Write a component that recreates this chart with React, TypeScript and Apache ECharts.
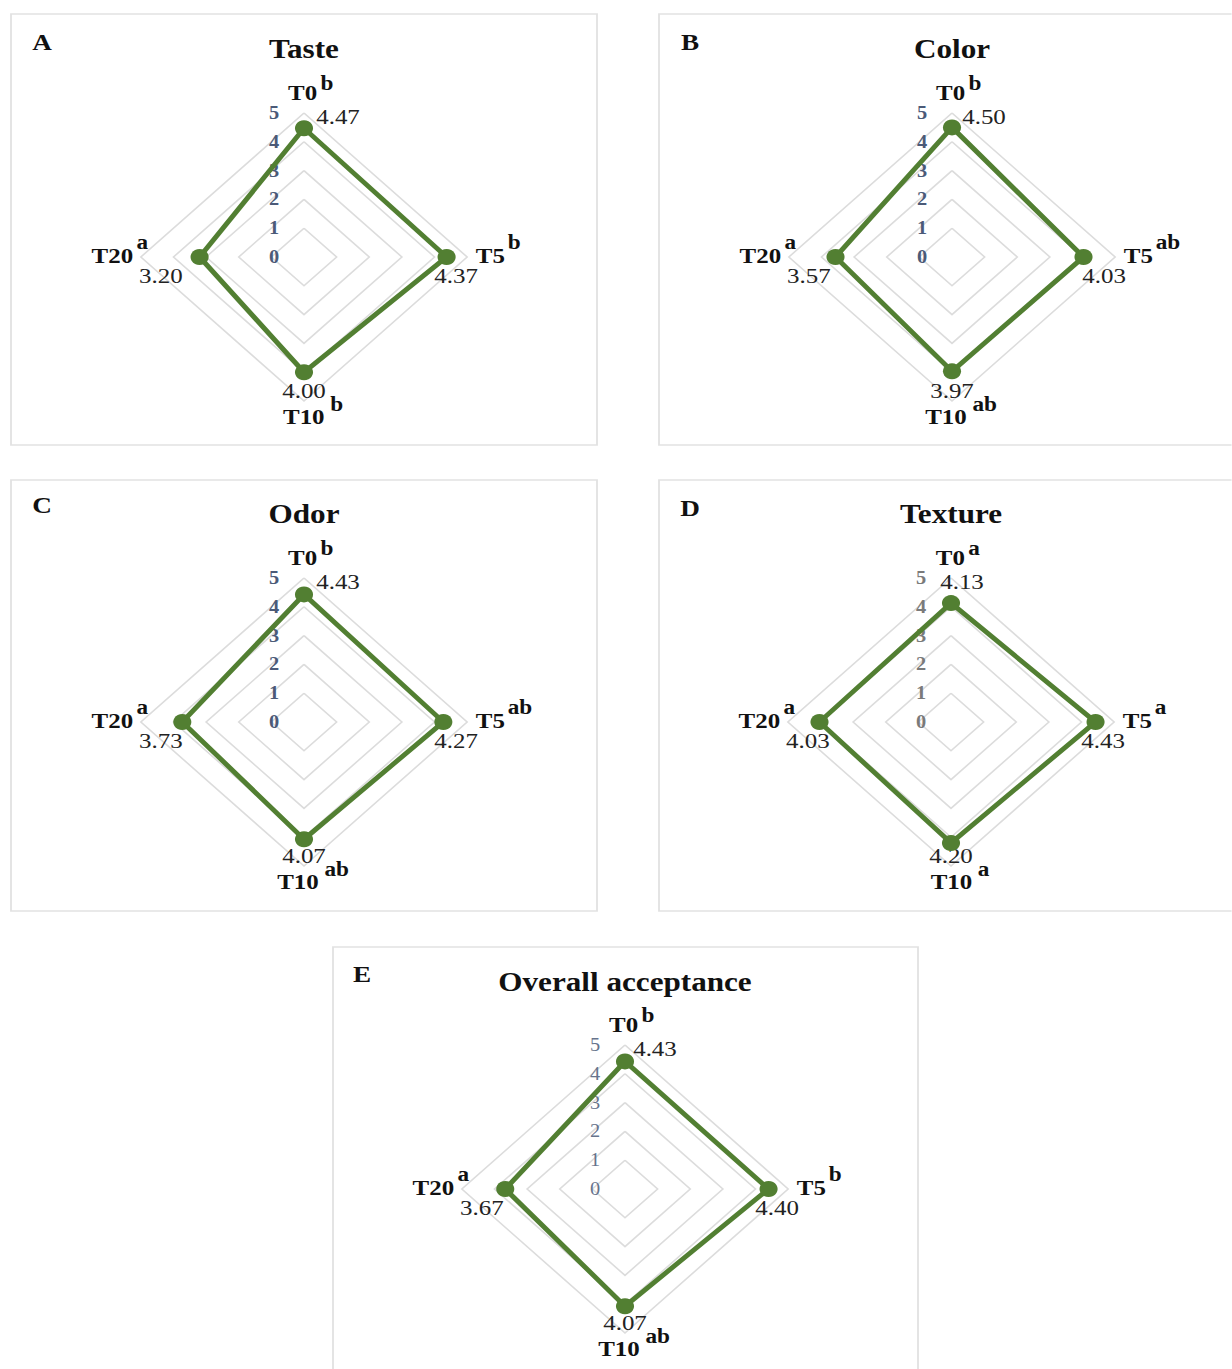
import React, { useEffect, useRef } from "react";
import * as echarts from "echarts";

// ---------- data ----------
const categories = ["T0", "T5", "T10", "T20"];
const panelLetters = ["A", "B", "C", "D", "E"];
const panelTitles = ["Taste", "Color", "Odor", "Texture", "Overall acceptance"];

const tasteValues = [4.47, 4.37, 4.0, 3.2];
const colorValues = [4.5, 4.03, 3.97, 3.57];
const odorValues = [4.43, 4.27, 4.07, 3.73];
const textureValues = [4.13, 4.43, 4.2, 4.03];
const overallValues = [4.43, 4.4, 4.07, 3.67];

const tasteGroups = ["b", "b", "b", "a"];
const colorGroups = ["b", "ab", "ab", "a"];
const odorGroups = ["b", "ab", "ab", "a"];
const textureGroups = ["a", "a", "a", "a"];
const overallGroups = ["b", "b", "ab", "a"];

const scaleMin = 0;
const scaleMax = 5;
const scaleSplits = 5;

const panelValues = [tasteValues, colorValues, odorValues, textureValues, overallValues];
const panelGroups = [tasteGroups, colorGroups, odorGroups, textureGroups, overallGroups];

// ---------- layout (page px) ----------
const S = 1.133; // horizontal stretch of the reference picture
const PAGE_W = 1232;
const PAGE_H = 1369;
const RADIUS = 144;
const centers = [
  [304, 257],
  [952, 257],
  [304, 722],
  [951, 722],
  [625, 1189],
];
const boxes = [
  [11, 14, 586, 431],
  [659, 14, 600, 431],
  [11, 480, 586, 431],
  [659, 480, 600, 431],
  [333, 947, 585, 440],
];
const letterPos = [
  [42, 42],
  [690, 42],
  [42, 505],
  [690, 508],
  [362, 974],
];
const titleY = [49, 49, 514, 514, 982];
const topValueShift = [34, 32, 34, 11, 30];
const tickColors = ["#4b5a78", "#4b5a78", "#4b5a78", "#7a7a7a", "#66738c"];
const tickWeights = ["bold", "bold", "bold", "bold", "normal"];

// ECharts radar runs counter-clockwise from the top: T0 (top), T20 (left), T10 (bottom), T5 (right)
const displayOrder = [0, 3, 2, 1];
const dirs = ["T", "L", "B", "R"];
const gaps = [-15, -36.9, -21, -29];

const SERIF = '"Liberation Serif", "Times New Roman", serif';
const GREEN = "#527f32";

const nm = { fontFamily: SERIF, fontWeight: "bold", fontSize: 22, color: "#111", verticalAlign: "top" };
const sup = { fontFamily: SERIF, fontWeight: "bold", fontSize: 20.5, color: "#111", verticalAlign: "top" };
const val = { fontFamily: SERIF, fontWeight: "normal", fontSize: 22, color: "#222", verticalAlign: "top" };

function makeRich(i: number) {
  const shift = (2 * topValueShift[i]) / S;
  return {
    // top block (anchored by its bottom)
    nmT: { ...nm, lineHeight: 34, padding: [9, 0, 0, 12] },
    supT: { ...sup, lineHeight: 34, padding: [0.5, 0, 0, 3] },
    valT: { ...val, lineHeight: 22, padding: [0, 0, 0, shift] },
    // right block (anchored by its middle)
    nmR: { ...nm, lineHeight: 30, padding: [14, 0, 0, 36.6] },
    supR: { ...sup, lineHeight: 30, padding: [0, 0, 0, 2.5] },
    valR: { ...val, lineHeight: 22, padding: [4, 0, 0, 0] },
    // bottom block (anchored by its top)
    valB: { ...val, lineHeight: 13 },
    nmB: { ...nm, lineHeight: 22, padding: [13, 0, 0, 16] },
    supB: { ...sup, lineHeight: 22, padding: [0.5, 0, 0, 5] },
    // left block (anchored by its middle)
    nmL: { ...nm, lineHeight: 30, padding: [14, 0, 0, 0] },
    supL: { ...sup, lineHeight: 30, padding: [0, 30.5, 0, 3] },
    valL: { ...val, lineHeight: 22, padding: [4, 0, 0, 0] },
  };
}

function buildOption() {
  const radar = centers.map((c, i) => {
    const values = panelValues[i];
    const groups = panelGroups[i];
    return {
      center: [c[0] / S, c[1]],
      radius: RADIUS,
      startAngle: 90,
      shape: "polygon",
      splitNumber: scaleSplits,
      indicator: displayOrder.map((k, j) => ({
        name: categories[k],
        min: scaleMin,
        max: scaleMax,
        nameGap: gaps[j],
        nameMoveOverlap: false,
        axisLabel: { show: j === 0 },
      })),
      axisName: {
        fontFamily: SERIF,
        color: "#111",
        rich: makeRich(i),
        formatter: (name: string) => {
          const k = categories.indexOf(name);
          const d = dirs[displayOrder.indexOf(k)];
          const v = values[k].toFixed(2);
          const g = groups[k];
          if (d === "B") return `{valB|${v}}\n{nmB|${name}}{supB|${g}}`;
          return `{nm${d}|${name}}{sup${d}|${g}}\n{val${d}|${v}}`;
        },
      },
      axisLabel: {
        show: true,
        margin: 22,
        fontFamily: SERIF,
        fontSize: 18,
        fontWeight: tickWeights[i],
        color: tickColors[i],
      },
      axisLine: { show: false },
      axisTick: { show: false },
      splitArea: { show: false },
      splitLine: { lineStyle: { color: "#dcdcdc", width: 1.5 } },
    };
  });

  const series = centers.map((_, i) => ({
    type: "radar",
    radarIndex: i,
    symbol: "circle",
    symbolSize: 16,
    lineStyle: { color: GREEN, width: 4.6 },
    itemStyle: { color: GREEN },
    data: [{ name: panelTitles[i], value: displayOrder.map((k) => panelValues[i][k]) }],
  }));

  const graphic: any[] = [];
  boxes.forEach((b) => {
    graphic.push({
      type: "rect",
      silent: true,
      shape: { x: b[0] / S, y: b[1], width: b[2] / S, height: b[3] },
      style: { fill: "none", stroke: "#e2e2e2", lineWidth: 1.6 },
    });
  });
  panelLetters.forEach((t, i) => {
    graphic.push({
      type: "text",
      x: letterPos[i][0] / S,
      y: letterPos[i][1],
      style: {
        text: t,
        font: `bold 24px ${SERIF}`,
        fill: "#111",
        textAlign: "center",
        textVerticalAlign: "middle",
      },
    });
  });
  panelTitles.forEach((t, i) => {
    graphic.push({
      type: "text",
      x: centers[i][0] / S,
      y: titleY[i],
      style: {
        text: t,
        font: `bold 27.5px ${SERIF}`,
        fill: "#111",
        textAlign: "center",
        textVerticalAlign: "middle",
      },
    });
  });

  return {
    animation: false,
    backgroundColor: "#ffffff",
    radar,
    series,
    graphic,
  };
}

export default function App() {
  const ref = useRef<HTMLDivElement>(null);
  useEffect(() => {
    if (!ref.current) return;
    const chart = echarts.init(ref.current, undefined, { renderer: "svg" });
    chart.setOption(buildOption() as any);
    return () => chart.dispose();
  }, []);
  return (
    <div
      ref={ref}
      style={{
        position: "absolute",
        left: 0,
        top: 0,
        width: PAGE_W / S,
        height: PAGE_H,
        transform: `scaleX(${S})`,
        transformOrigin: "0 0",
        background: "#fff",
      }}
    />
  );
}
